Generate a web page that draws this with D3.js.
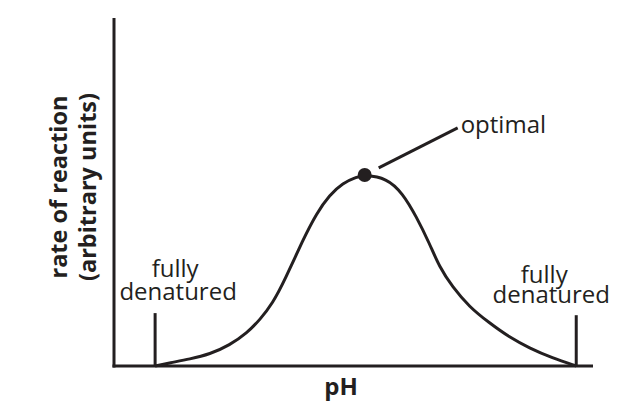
<!DOCTYPE html>
<html>
<head>
<meta charset="utf-8">
<script src="https://cdn.jsdelivr.net/npm/d3@7"></script>
<style>
  body { margin: 0; background: #fff; }
  text { font-family: "Open Sans", "Noto Sans", sans-serif; fill: #231f20; }
</style>
</head>
<body>
<div id="chart"></div>
<script>
// curve (pH, rate in arbitrary units)
const phValues   = [1.03, 1.4, 1.9, 2.4, 2.9, 3.33, 3.65, 3.98, 4.28, 4.73, 5.08, 5.4, 5.73, 6.08, 6.28,
                    6.83, 7.23, 7.58, 7.9, 8.15, 8.48, 8.9, 9.4, 9.9, 10.4, 10.98, 11.58];
const rateValues = [0, 0.9, 2.0, 3.4, 6.0, 9.5, 13.2, 18.1, 24.7, 36.2, 44.0, 49.1, 52.6, 54.3, 54.9,
                    54.0, 49.7, 42.8, 35.3, 28.5, 22.7, 17.0, 12.4, 8.3, 5.2, 2.3, 0];
const denaturedPH = [1.03, 11.58];
const denaturedMark = [15.2, 14.6];
const optimalPH = 6.28, optimalRate = 54.9;
const labels = {y1: "rate of reaction", y2: "(arbitrary units)", x: "pH", optimal: "optimal", dn: ["fully", "denatured"]};

const width = 632, height = 418;
const padding = {top: 18, right: 39, bottom: 52, left: 114};
const ink = "#231f20";

const svg = d3.select("#chart").append("svg")
  .attr("width", width).attr("height", height);

const x = d3.scaleLinear().domain([0, 12]).range([padding.left, width - padding.right]);
const y = d3.scaleLinear().domain([0, 100]).range([height - padding.bottom, padding.top]);

const data = phValues.map((p, i) => ({ph: p, rate: rateValues[i]}));

// axes (plain lines, no ticks)
svg.append("line")
  .attr("x1", x(0)).attr("x2", x(0))
  .attr("y1", y(100)).attr("y2", y(0) + 1.5)
  .attr("stroke", ink).attr("stroke-width", 3);
svg.append("line")
  .attr("x1", x(0) - 1.5).attr("x2", x(12))
  .attr("y1", y(0)).attr("y2", y(0))
  .attr("stroke", ink).attr("stroke-width", 3);

// the curve
svg.append("path")
  .datum(data)
  .attr("fill", "none")
  .attr("stroke", ink)
  .attr("stroke-width", 3)
  .attr("d", d3.line()
    .x(d => x(d.ph))
    .y(d => y(d.rate))
    .curve(d3.curveBasis));

// denatured marks
svg.selectAll(".dmark")
  .data(denaturedPH)
  .join("line")
    .attr("class", "dmark")
    .attr("x1", d => x(d)).attr("x2", d => x(d))
    .attr("y1", (d, i) => y(denaturedMark[i])).attr("y2", y(0))
    .attr("stroke", ink).attr("stroke-width", 3);

// denatured labels (one text, two lines)
const dnShift = [[20, 23, -36, -13], [-32, -25, -32, -12]];
denaturedPH.forEach(function(p, i) {
  const top = y(denaturedMark[i]);
  const t = svg.append("text")
    .attr("text-anchor", "middle")
    .style("font-size", "24px");
  t.append("tspan")
    .attr("x", x(p) + dnShift[i][0]).attr("y", top + dnShift[i][2])
    .text(labels.dn[0]);
  t.append("tspan")
    .attr("x", x(p) + dnShift[i][1]).attr("y", top + dnShift[i][3])
    .text(labels.dn[1]);
});

// optimal point + leader
const ox = x(optimalPH), oy = y(optimalRate);
svg.append("circle")
  .attr("cx", ox).attr("cy", oy).attr("r", 7)
  .attr("fill", ink);
svg.append("line")
  .attr("x1", ox + 14).attr("y1", oy - 7)
  .attr("x2", ox + 93).attr("y2", oy - 47)
  .attr("stroke", ink).attr("stroke-width", 3);
svg.append("text")
  .attr("x", ox + 96).attr("y", oy - 42)
  .style("font-size", "24px")
  .text(labels.optimal);

// axis titles
svg.append("text")
  .attr("x", 341).attr("y", 395)
  .attr("text-anchor", "middle")
  .style("font-size", "24px").style("font-weight", "bold")
  .text(labels.x);

const yt = svg.append("g").attr("transform", "translate(67,187) rotate(-90)");
yt.append("text")
  .attr("text-anchor", "middle")
  .style("font-size", "23.5px").style("font-weight", "bold")
  .text(labels.y1);
yt.append("text")
  .attr("y", 29)
  .attr("text-anchor", "middle")
  .style("font-size", "23.5px").style("font-weight", "bold")
  .text(labels.y2);
</script>
</body>
</html>
